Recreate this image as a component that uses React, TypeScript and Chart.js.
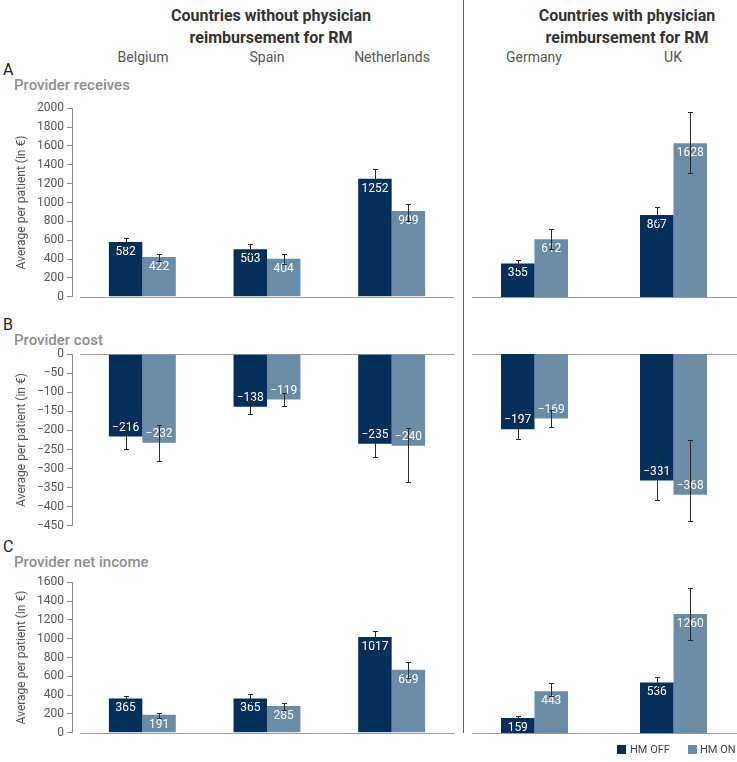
import React, { useEffect, useRef } from "react";
import { Chart, registerables } from "chart.js";

Chart.register(...registerables);

const FONT = "Roboto, 'Noto Sans', sans-serif";
const OFF_COLOR = "#042f5b";
const ON_COLOR = "#6a8ca7";

// ---- categories ----
const leftCountries = ["Belgium", "Spain", "Netherlands"];
const rightCountries = ["Germany", "UK"];
const seriesNames = ["HM OFF", "HM ON"];

// ---- Panel A: Provider receives (order: Belgium, Spain, Netherlands, Germany, UK) ----
const receivesOff = [582, 503, 1252, 355, 867];
const receivesOn = [422, 404, 909, 612, 1628];
const receivesOffLow = [540, 445, 1155, 315, 780];
const receivesOffHigh = [628, 564, 1351, 395, 957];
const receivesOnLow = [383, 350, 800, 505, 1309];
const receivesOnHigh = [457, 457, 989, 720, 1957];
const receivesTicks = { min: 0, max: 2000, step: 200 };

// ---- Panel B: Provider cost ----
const costOff = [-216, -138, -235, -197, -331];
const costOn = [-232, -119, -240, -169, -368];
const costOffLow = [-249, -157, -270, -223, -383];
const costOffHigh = [-183, -120, -200, -171, -280];
const costOnLow = [-280, -136, -335, -191, -437];
const costOnHigh = [-186, -102, -194, -147, -225];
const costTicks = { min: -450, max: 0, step: 50 };

// ---- Panel C: Provider net income ----
const netOff = [365, 365, 1017, 159, 536];
const netOn = [191, 285, 669, 443, 1260];
const netOffLow = [338, 317, 952, 138, 479];
const netOffHigh = [392, 413, 1082, 180, 593];
const netOnLow = [159, 244, 586, 392, 985];
const netOnHigh = [212, 318, 752, 530, 1536];
const netTicks = { min: 0, max: 1600, step: 200 };

const fmt = (v: number) => String(v).replace("-", "\u2212");

type PanelProps = {
  labels: string[];
  off: number[];
  on: number[];
  offLow: number[];
  offHigh: number[];
  onLow: number[];
  onHigh: number[];
  ticks: { min: number; max: number; step: number };
  showY: boolean;
  left: number;
  top: number;
  width: number;
  height: number;
  catPct: number;
  zeroStart: number;
};

function BarPanel(p: PanelProps) {
  const ref = useRef<HTMLCanvasElement>(null);
  useEffect(() => {
    const canvas = ref.current!;
    const decor = {
      id: "decor",
      beforeDatasetsDraw(chart: any) {
        const { ctx, chartArea } = chart;
        const ys = chart.scales.y;
        ctx.save();
        const y0 = Math.round(ys.getPixelForValue(0)) + 0.5;
        ctx.strokeStyle = "#9c9c9c";
        ctx.lineWidth = 1.2;
        ctx.beginPath();
        ctx.moveTo(chartArea.left + p.zeroStart, y0);
        ctx.lineTo(chartArea.right, y0);
        ctx.stroke();
        if (p.showY) {
          const ax = chartArea.left - 8 + 0.5;
          ctx.strokeStyle = "#8a8a8a";
          ctx.lineWidth = 1;
          ctx.beginPath();
          ctx.moveTo(ax, ys.getPixelForValue(p.ticks.max));
          ctx.lineTo(ax, ys.getPixelForValue(p.ticks.min));
          ctx.stroke();
        }
        ctx.restore();
      },
      afterDatasetsDraw(chart: any) {
        const { ctx } = chart;
        const ys = chart.scales.y;
        ctx.save();
        chart.data.datasets.forEach((ds: any, di: number) => {
          const meta = chart.getDatasetMeta(di);
          meta.data.forEach((bar: any, i: number) => {
            const v = ds.data[i];
            const ly = v >= 0 ? bar.y + 10 : bar.y - 9;
            ctx.fillStyle = "#ffffff";
            ctx.font = `12px ${FONT}`;
            ctx.textAlign = "center";
            ctx.textBaseline = "middle";
            ctx.fillText(fmt(v), bar.x, ly);
          });
        });
        chart.data.datasets.forEach((ds: any, di: number) => {
          const meta = chart.getDatasetMeta(di);
          meta.data.forEach((bar: any, i: number) => {
            const yl = Math.round(ys.getPixelForValue(ds.errLow[i]));
            const yh = Math.round(ys.getPixelForValue(ds.errHigh[i]));
            const x = Math.round(bar.x) + 0.5;
            ctx.strokeStyle = "#2b2b2b";
            ctx.lineWidth = 1;
            ctx.beginPath();
            ctx.moveTo(x, yl);
            ctx.lineTo(x, yh);
            ctx.moveTo(x - 2.5, yl + 0.5);
            ctx.lineTo(x + 2.5, yl + 0.5);
            ctx.moveTo(x - 2.5, yh + 0.5);
            ctx.lineTo(x + 2.5, yh + 0.5);
            ctx.stroke();
          });
        });
        ctx.restore();
      },
    };
    const yScale: any = {
      display: p.showY,
      min: p.ticks.min,
      max: p.ticks.max,
      ticks: {
        stepSize: p.ticks.step,
        padding: 3,
        color: "#555555",
        font: { family: FONT, size: 12 },
        callback: (v: any) => fmt(Number(v)),
      },
      grid: {
        drawOnChartArea: false,
        drawTicks: true,
        tickLength: 13,
        tickBorderDash: [5, 100],
        tickColor: "#8a8a8a",
      },
      border: { display: false },
      title: {
        display: true,
        text: "Average per patient (in \u20ac)",
        color: "#555555",
        font: { family: FONT, size: 12 },
        padding: { top: 15, bottom: 0 },
      },
    };
    if (p.showY) {
      yScale.afterFit = (s: any) => {
        s.width = 80;
      };
    }
    const chart = new Chart(canvas, {
      type: "bar",
      data: {
        labels: p.labels,
        datasets: [
          {
            label: seriesNames[0],
            data: p.off,
            backgroundColor: OFF_COLOR,
            categoryPercentage: p.catPct,
            barPercentage: 1,
            errLow: p.offLow,
            errHigh: p.offHigh,
          } as any,
          {
            label: seriesNames[1],
            data: p.on,
            backgroundColor: ON_COLOR,
            categoryPercentage: p.catPct,
            barPercentage: 1,
            errLow: p.onLow,
            errHigh: p.onHigh,
          } as any,
        ],
      },
      options: {
        responsive: false,
        maintainAspectRatio: false,
        animation: false,
        layout: { padding: { top: 10, bottom: 10, left: 0, right: 0 } },
        plugins: { legend: { display: false }, tooltip: { enabled: false } },
        scales: {
          x: { display: false, grid: { display: false } },
          y: yScale,
        },
      },
      plugins: [decor],
    });
    return () => chart.destroy();
  }, []);
  return (
    <canvas
      ref={ref}
      width={p.width}
      height={p.height}
      style={{ position: "absolute", left: p.left, top: p.top, width: p.width, height: p.height }}
    />
  );
}

const pick = (arr: number[], idx: number[]) => idx.map((i) => arr[i]);
const L = [0, 1, 2];
const R = [3, 4];

type PanelDef = {
  off: number[];
  on: number[];
  offLow: number[];
  offHigh: number[];
  onLow: number[];
  onHigh: number[];
  ticks: { min: number; max: number; step: number };
  plotTop: number;
  plotBottom: number;
};

const panels: PanelDef[] = [
  { off: receivesOff, on: receivesOn, offLow: receivesOffLow, offHigh: receivesOffHigh, onLow: receivesOnLow, onHigh: receivesOnHigh, ticks: receivesTicks, plotTop: 108, plotBottom: 297 },
  { off: costOff, on: costOn, offLow: costOffLow, offHigh: costOffHigh, onLow: costOnLow, onHigh: costOnHigh, ticks: costTicks, plotTop: 354, plotBottom: 526 },
  { off: netOff, on: netOn, offLow: netOffLow, offHigh: netOffHigh, onLow: netOnLow, onHigh: netOnHigh, ticks: netTicks, plotTop: 582, plotBottom: 733 },
];

const panelTitles = [
  { letter: "A", title: "Provider receives", y: 70 },
  { letter: "B", title: "Provider cost", y: 325 },
  { letter: "C", title: "Provider net income", y: 547 },
];

const countryCenters = [143, 267, 392, 534, 673];

export default function App() {
  const txt = (extra: React.CSSProperties): React.CSSProperties => ({
    position: "absolute",
    fontFamily: FONT,
    whiteSpace: "nowrap",
    ...extra,
  });
  return (
    <div
      style={{
        position: "absolute",
        left: 0,
        top: 0,
        width: 737,
        height: 762,
        overflow: "hidden",
        background: "#ffffff",
      }}
    >
      {/* headers */}
      <div style={txt({ left: 121, top: 5, width: 300, textAlign: "center", fontSize: 16, fontWeight: 700, lineHeight: "22px", color: "#333" })}>
        Countries without physician
        <br />
        reimbursement for RM
      </div>
      <div style={txt({ left: 477, top: 5, width: 300, textAlign: "center", fontSize: 16, fontWeight: 700, lineHeight: "22px", color: "#333" })}>
        Countries with physician
        <br />
        reimbursement for RM
      </div>
      {[...leftCountries, ...rightCountries].map((c, i) => (
        <div
          key={c}
          style={txt({ left: countryCenters[i] - 60, top: 48, width: 120, textAlign: "center", fontSize: 14, lineHeight: "18px", color: "#555" })}
        >
          {c}
        </div>
      ))}
      {panelTitles.map((t) => (
        <React.Fragment key={t.letter}>
          <div style={txt({ left: 3, top: t.y - 10, fontSize: 16, lineHeight: "20px", color: "#222" })}>{t.letter}</div>
          <div style={txt({ left: 14, top: t.y + 5, fontSize: 15, fontWeight: 500, lineHeight: "20px", color: "#8e8e8e" })}>{t.title}</div>
        </React.Fragment>
      ))}
      {panels.map((pd, k) => (
        <React.Fragment key={k}>
          <BarPanel
            labels={leftCountries}
            off={pick(pd.off, L)}
            on={pick(pd.on, L)}
            offLow={pick(pd.offLow, L)}
            offHigh={pick(pd.offHigh, L)}
            onLow={pick(pd.onLow, L)}
            onHigh={pick(pd.onHigh, L)}
            ticks={pd.ticks}
            showY={true}
            left={0}
            top={pd.plotTop - 10}
            width={454}
            height={pd.plotBottom - pd.plotTop + 20}
            catPct={0.537}
            zeroStart={0}
          />
          <BarPanel
            labels={rightCountries}
            off={pick(pd.off, R)}
            on={pick(pd.on, R)}
            offLow={pick(pd.offLow, R)}
            offHigh={pick(pd.offHigh, R)}
            onLow={pick(pd.onLow, R)}
            onHigh={pick(pd.onHigh, R)}
            ticks={pd.ticks}
            showY={false}
            left={465}
            top={pd.plotTop - 10}
            width={278}
            height={pd.plotBottom - pd.plotTop + 20}
            catPct={0.482}
            zeroStart={7}
          />
        </React.Fragment>
      ))}
      {/* divider */}
      <div style={{ position: "absolute", left: 463, top: 0, width: 1, height: 733, background: "#666" }} />
      {/* legend */}
      <div style={{ position: "absolute", left: 617, top: 745, width: 9, height: 9, background: OFF_COLOR }} />
      <div style={txt({ left: 630, top: 742, fontSize: 11, lineHeight: "15px", color: "#444" })}>{seriesNames[0]}</div>
      <div style={{ position: "absolute", left: 688, top: 745, width: 9, height: 9, background: ON_COLOR }} />
      <div style={txt({ left: 700, top: 742, fontSize: 11, lineHeight: "15px", color: "#444" })}>{seriesNames[1]}</div>
    </div>
  );
}
